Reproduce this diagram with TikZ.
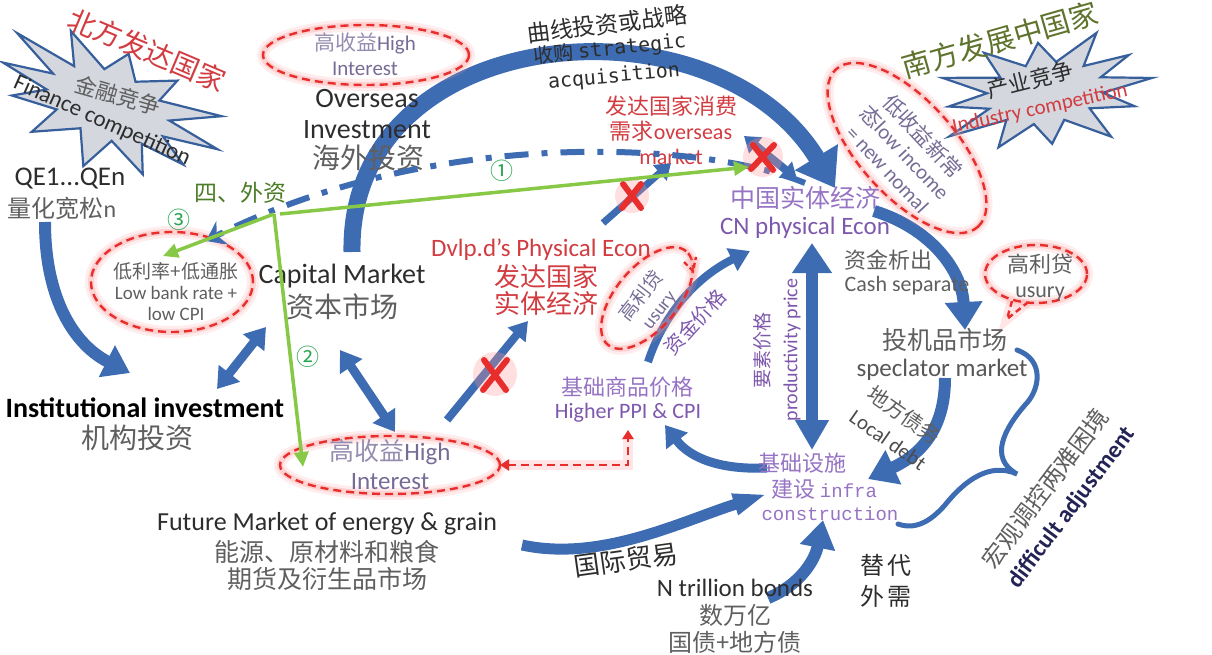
\documentclass[tikz,border=0pt]{standalone}
\usepackage{fontspec}
\setmainfont{Carlito}
\newfontfamily\cjk{Noto Sans CJK SC}
\newfontfamily\lmono{Liberation Mono}
\newfontfamily\dmono{DejaVu Sans Mono}
\usetikzlibrary{arrows.meta,shapes.geometric,calc}
\definecolor{bblue}{RGB}{62,108,178}
\definecolor{xred}{RGB}{232,45,45}
\definecolor{glow}{RGB}{255,150,150}
\definecolor{redt}{RGB}{210,60,65}
\definecolor{ppl}{RGB}{125,88,172}
\definecolor{lppl}{RGB}{150,115,195}
\definecolor{gpl}{RGB}{118,108,150}
\definecolor{lgpl}{RGB}{150,140,175}
\definecolor{dtext}{RGB}{45,45,45}
\definecolor{gtext}{RGB}{95,95,95}
\definecolor{grn}{RGB}{135,200,70}
\definecolor{dgrn}{RGB}{75,125,40}
\definecolor{cgrn}{RGB}{40,165,80}
\definecolor{olive}{RGB}{95,115,45}
\definecolor{starfill}{RGB}{212,215,222}
\definecolor{starline}{RGB}{55,95,155}
\definecolor{navy}{RGB}{35,35,85}
\newcommand{\zh}[1]{{\cjk #1}}
\newcommand{\fsz}[2]{\fontsize{#1}{#2}\selectfont}
\begin{document}
\begin{tikzpicture}[x=1pt,y=-1pt,
  every node/.style={inner sep=0pt,outer sep=0pt},
  bl/.style={draw=bblue},
  gl/.style={draw=grn, line width=3.5pt, -{Triangle[width=14pt,length=15pt]}},
  redell/.style={ellipse, draw=xred, line width=2.4pt, dash pattern=on 8pt off 5pt,
     preaction={draw=glow, solid, line width=12pt, opacity=0.18},
     preaction={draw=glow, solid, line width=6pt, opacity=0.3}, inner sep=0pt},
  reddash/.style={draw=xred, line width=2.4pt, dash pattern=on 8pt off 5pt,
     preaction={draw=glow, solid, line width=10pt, opacity=0.25}},
  xm/.style={draw=xred, line width=6pt, line cap=round},
  xg/.style={fill=glow, opacity=0.3},
  starb/.style={draw=starline, line width=2.2pt, fill=starfill},
  mid/.style={align=center}
]
\useasboundingbox (0,0) rectangle (1212,655);

% ---------- starbursts ----------
\begin{scope}[shift={(108,105)}, rotate=-22]
\draw[starb] plot[samples at={0,...,23}, variable=\t]
  ({(1-0.45*mod(\t,2)+0.1*sin(\t*137)*(1-mod(\t,2)))*cos(\t*15)*118},
   {(1-0.45*mod(\t,2)+0.1*sin(\t*137)*(1-mod(\t,2)))*sin(\t*15)*60}) -- cycle;
\end{scope}
\begin{scope}[shift={(1045,93)}, rotate=8]
\draw[starb] plot[samples at={0,...,23}, variable=\t]
  ({(1-0.45*mod(\t,2)+0.1*sin(\t*113)*(1-mod(\t,2)))*cos(\t*15)*108},
   {(1-0.45*mod(\t,2)+0.1*sin(\t*113)*(1-mod(\t,2)))*sin(\t*15)*55}) -- cycle;
\end{scope}

% ---------- blue block arrows ----------
\draw[bl, line width=17pt, -{Triangle[width=48pt,length=36pt]}]
  (352,252) .. controls (348,20) and (715,-10) .. (835,188);
\draw[bl, line width=12pt, -{Triangle[width=34pt,length=26pt]}]
  (45,222) .. controls (45,300) and (75,345) .. (130,373);
\draw[bl, line width=9pt, {Triangle[width=26pt,length=20pt]}-{Triangle[width=26pt,length=20pt]}]
  (266,327) -- (217,389);
\draw[bl, line width=9pt, {Triangle[width=26pt,length=20pt]}-{Triangle[width=26pt,length=20pt]}]
  (340,350) -- (395,432);
\draw[bl, line width=8pt, -{Triangle[width=22pt,length=18pt]}] (447,420) -- (528,321);
\draw[bl, line width=7pt, -{Triangle[width=20pt,length=15pt]}] (603,223) -- (671,163);
\draw[bl, line width=8pt, {Triangle[width=20pt,length=15pt]}-{Triangle[width=20pt,length=15pt]}]
  (744,136) -- (797,179);
\draw[bl, line width=8pt, -{Triangle[width=24pt,length=20pt]}]
  (648,362) .. controls (665,310) and (700,275) .. (750,251);
\draw[bl, line width=12pt, {Triangle[width=38pt,length=30pt]}-{Triangle[width=32pt,length=30pt]}]
  (812,243) -- (812,450);
\draw[bl, line width=12pt, -{Triangle[width=36pt,length=28pt]}]
  (874,211) .. controls (930,228) and (962,270) .. (965,330);
\draw[bl, line width=12pt, -{Triangle[width=36pt,length=28pt]}]
  (945,378) .. controls (945,430) and (920,455) .. (868,479);
\draw[bl, line width=9pt, -{Triangle[width=26pt,length=20pt]}]
  (767,468) .. controls (720,470) and (690,458) .. (665,425);
\draw[bl, line width=11pt, -{Triangle[width=20pt,length=34pt]}]
  (522,545) .. controls (600,562) and (680,522) .. (767,494);
\draw[bl, line width=12pt, -{Triangle[width=34pt,length=28pt]}]
  (768,598) .. controls (800,585) and (815,560) .. (823,520);
% brace
\draw[bl, line width=5pt, line cap=round]
  (1017,350) .. controls (1045,360) and (1040,390) .. (1025,405)
  .. controls (1005,428) and (988,458) .. (1017,474)
  .. controls (990,462) and (965,480) .. (945,505)
  .. controls (930,522) and (915,530) .. (898,524);

% ---------- red dashed ellipses ----------
\node[redell, minimum width=206pt, minimum height=60pt] (e1) at (366,55) {};
\node[redell, minimum width=162pt, minimum height=100pt] (e2) at (172,282) {};
\node[redell, minimum width=220pt, minimum height=58pt] (e3) at (390,465) {};
\node[redell, minimum width=212pt, minimum height=96pt, rotate=-48] (e4) at (907,148) {};
\node[redell, minimum width=102pt, minimum height=58pt] (e5) at (1036,274) {};
\node[redell, minimum width=122pt, minimum height=62pt, rotate=50] (e6) at (647,298) {};
\coordinate (t5a) at (1012,301);
\coordinate (t5b) at (1007,319);
\coordinate (t5c) at (1027,303);
\draw[reddash, dash pattern=on 6pt off 4pt] (t5a) -- (t5b) -- (t5c);
\coordinate (t6a) at (684,262);
\coordinate (t6b) at (693,271);
\coordinate (t6c) at (696,257);
\draw[reddash, dash pattern=on 5pt off 3pt] (t6a) -- (t6b) -- (t6c);

% red dashed connector
\coordinate (rc) at (628,465);
\draw[reddash, {Triangle[width=11pt,length=9pt]}-{Triangle[width=11pt,length=9pt]}]
  (e3.east) -- (rc) -- (628,430);

% ---------- texts ----------
\node[font=\cjk\fsz{28}{28}, text=redt, rotate=-23] (north) at (147,50) {北方发达国家};
\node[font=\cjk\fsz{22}{22}, text=gtext, rotate=-16] (fin1) at (118,95) {金融竞争};
\node[font=\fsz{23}{23}, text=dtext, rotate=-24] (fin2) at (102,121) {Finance competition};
\node[font=\fsz{27}{27}, text=dtext] (qe1) at (70,179) {QE1...QEn};
\node[font=\fsz{24}{24}, text=gtext] (qe2) at (62,208) {\zh{量化宽松}n};

\node[font=\fsz{19}{21}, text=gtext, mid] (lowr) at (176,292) {\zh{低利率+低通胀}\\Low bank rate +\\low CPI};

\node[font=\fsz{21}{25}, text=gpl, mid] (hi1) at (365,54) {\textcolor{lgpl}{\zh{高收益}}High\\Interest};
\node[font=\fsz{28}{31}, text=dtext, mid] (ovs) at (367,114) {Overseas\\Investment};
\node[font=\cjk\fsz{28}{28}, text=gtext] (ovsz) at (368,158) {海外投资};

\node[font=\cjk\fsz{23}{23}, text=dtext, rotate=7] (curve1) at (607,24) {曲线投资或战略};
\node[font=\fsz{20}{20}, text=dtext, rotate=6] (curve2) at (610,49) {\zh{收购} {\dmono strategic}};
\node[font=\dmono\fsz{20}{20}, text=dtext, rotate=5] (curve3) at (614,77) {acquisition};

\node[font=\fsz{22}{25}, text=redt, mid] (ovm) at (671,130) {\zh{发达国家消费}\\\zh{需求}overseas\\market};

\node[font=\cjk\fsz{25}{25}, text=lppl] (cn1) at (805,198) {中国实体经济};
\node[font=\fsz{25}{25}, text=ppl] (cn2) at (805,228) {CN physical Econ};

\node[font=\fsz{21}{24}, text=gpl, rotate=-47, mid] (lowinc) at (906,152) {\zh{低收益新常}\\\zh{态}low income\\= new nomal};

\node[font=\cjk\fsz{29}{29}, text=olive, rotate=16] (south) at (1000,40) {南方发展中国家};
\node[font=\cjk\fsz{22}{22}, text=dtext, rotate=14] (ind1) at (1030,80) {产业竞争};
\node[font=\fsz{21}{21}, text=redt, rotate=12] (ind2) at (1040,109) {Industry competition};

\node[font=\fsz{28}{28}, text=dtext] (cap) at (342,276) {Capital Market};
\node[font=\cjk\fsz{28}{28}, text=gtext] (capz) at (342,307) {资本市场};

\node[font=\bfseries\fsz{28}{28}, text=black, anchor=east] (inst) at (284,408) {Institutional investment};
\node[font=\cjk\fsz{28}{28}, text=gtext] (instz) at (137,438) {机构投资};

\node[font=\fsz{25}{25}, text=redt] (dv1) at (541,250) {Dvlp.d’s Physical Econ};
\node[font=\cjk\fsz{26}{27}, text=redt, mid] (dv2) at (546,290) {发达国家\\实体经济};

\node[font=\fsz{19}{22}, text=gpl, rotate=52, mid] (us1) at (650,303) {\zh{高利贷}\\usury};
\node[font=\cjk\fsz{20}{20}, text=ppl, rotate=48] (zjjg) at (695,322) {资金价格};

\node[font=\cjk\fsz{22}{22}, text=lppl] (ppi1) at (627,387) {基础商品价格};
\node[font=\fsz{22}{22}, text=ppl] (ppi2) at (628,413) {Higher PPI \& CPI};

\node[font=\cjk\fsz{19}{19}, text=ppl, rotate=90] (ysjg) at (762,350) {要素价格};
\node[font=\fsz{20}{20}, text=ppl, rotate=90] (prod) at (792,350) {productivity price};

\node[font=\cjk\fsz{22}{22}, text=lppl] (inf1) at (802,463) {基础设施};
\node[font=\fsz{22}{22}, text=lppl] (inf2) at (824,489) {\zh{建设} {\lmono\fsz{19}{19}infra}};
\node[font=\lmono\fsz{19}{19}, text=lppl] (inf3) at (830,514) {construction};

\node[font=\cjk\fsz{22}{22}, text=gtext] (cs1) at (888,260) {资金析出};
\node[font=\fsz{22}{22}, text=gtext] (cs2) at (907,286) {Cash separate};
\node[font=\fsz{22}{25}, text=gtext, mid] (us2) at (1040,277) {\zh{高利贷}\\usury};
\node[font=\cjk\fsz{25}{25}, text=gtext] (sp1) at (945,340) {投机品市场};
\node[font=\fsz{25}{25}, text=dtext!80] (sp2) at (942,370) {speclator market};

\node[font=\cjk\fsz{21}{21}, text=gtext, rotate=-35] (ld1) at (904,415) {地方债务};
\node[font=\fsz{21}{21}, text=dtext!85, rotate=-35] (ld2) at (888,440) {Local debt};

\node[font=\cjk\fsz{24}{24}, text=gtext, rotate=53] (hg1) at (1045,488) {宏观调控两难困境};
\node[font=\bfseries\fsz{24}{24}, text=navy, rotate=53] (hg2) at (1072,508) {difficult adjustment};

\node[font=\fsz{25}{29}, text=gpl, mid] (hi2) at (390,465) {\textcolor{lgpl}{\zh{高收益}}High\\Interest};

\node[font=\fsz{26}{26}, text=dtext] (fut1) at (327,524) {Future Market of energy \& grain};
\node[font=\cjk\fsz{25}{27}, text=gtext, mid] (fut2) at (327,565) {能源、原材料和粮食\\期货及衍生品市场};

\node[font=\cjk\fsz{26}{26}, text=dtext, rotate=8] (trade) at (626,560) {国际贸易};
\node[font=\fsz{25}{25}, text=dtext] (nb1) at (735,588) {N trillion bonds};
\node[font=\cjk\fsz{24}{27}, text=gtext, mid] (nb2) at (735,629) {数万亿\\国债+地方债};
\node[font=\cjk\fsz{24}{31}, text=dtext, mid] (tdwx) at (886,581) {替\,代\\外\,需};

\node[font=\cjk\fsz{23}{23}, text=dgrn] (wz) at (240,193) {四、外资};
\node[font=\cjk\fsz{23}{23}, text=cgrn] (n1) at (502,171) {①};
\node[font=\cjk\fsz{23}{23}, text=cgrn] (n2) at (308,357) {②};
\node[font=\cjk\fsz{23}{23}, text=cgrn] (n3) at (179,220) {③};

% dash-dot arrow
\draw[draw=bblue, line width=6pt, dash pattern=on 24pt off 13pt on 6pt off 13pt,
  -{Stealth[length=18pt,width=26pt]}]
  (805,183) .. controls (700,140) and (430,128) .. (206,241);

% red X marks
\fill[xg] (632,196) circle (17);
\draw[xm] (623,184) -- (641,208) (641,184) -- (622,208);
\fill[xg] (763,157) circle (20);
\draw[xm] (753,145) -- (773,170) (774,145) -- (751,169);
\fill[xg] (495,374) circle (22);
\draw[xm] (484,360) -- (506,390) (507,360) -- (483,390);

% ---------- green arrows ----------
\coordinate (J) at (274,214);
\draw[gl] (J) -- (163,256);
\draw[gl] (J) -- (303,467);
\draw[gl] ([xshift=6pt]J) -- (749,167);
\end{tikzpicture}
\end{document}
